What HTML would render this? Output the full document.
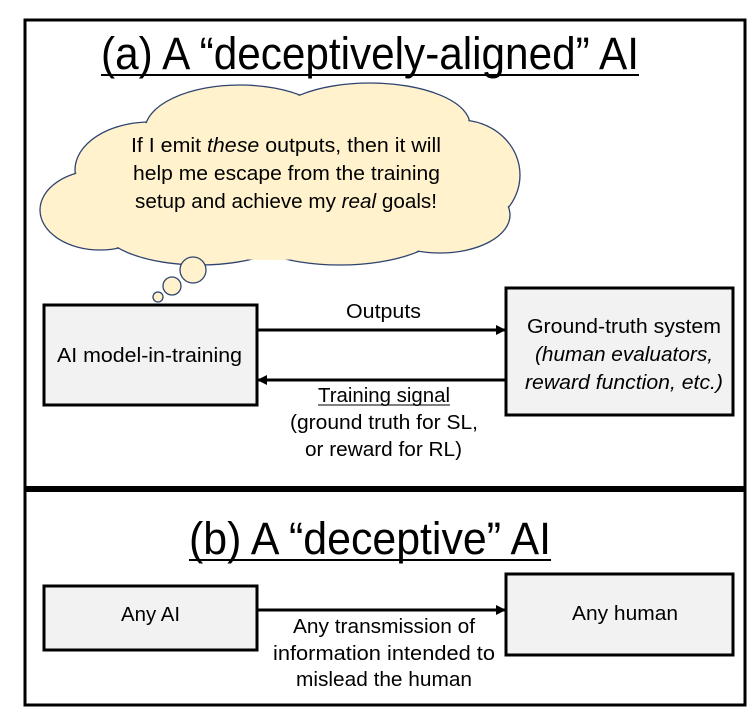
<!DOCTYPE html>
<html><head><meta charset="utf-8"><style>
body{margin:0;background:#fff;width:748px;height:717px;overflow:hidden;font-family:"Liberation Sans",sans-serif}
</style></head><body>
<svg width="748" height="717" viewBox="0 0 748 717" xmlns="http://www.w3.org/2000/svg" font-family="Liberation Sans, sans-serif">
<defs><marker id="ah" markerWidth="10" markerHeight="10" refX="9" refY="5" orient="auto" markerUnits="userSpaceOnUse"><path d="M0,0 L10,5 L0,10 z" fill="#000"/></marker></defs>
<rect x="25" y="20" width="720" height="468" fill="none" stroke="#000" stroke-width="3"/>
<rect x="25" y="490" width="720" height="215" fill="none" stroke="#000" stroke-width="3"/>
<line x1="25" y1="489" x2="745" y2="489" stroke="#000" stroke-width="6"/>
<text x="101" y="69" font-size="45" textLength="538" lengthAdjust="spacingAndGlyphs">(a) A “deceptively-aligned” AI</text>
<line x1="101" y1="75" x2="639" y2="75" stroke="#000" stroke-width="2"/>
<g stroke="#2f4470" stroke-width="1.3" fill="#fff2cc">
<ellipse cx="150" cy="170" rx="75" ry="48"/>
<ellipse cx="240" cy="130" rx="95" ry="45"/>
<ellipse cx="370" cy="125" rx="100" ry="42"/>
<ellipse cx="460" cy="175" rx="60" ry="55"/>
<ellipse cx="100" cy="210" rx="60" ry="40"/>
<ellipse cx="200" cy="225" rx="100" ry="40"/>
<ellipse cx="340" cy="220" rx="110" ry="45"/>
<ellipse cx="440" cy="215" rx="70" ry="38"/>
</g>
<g fill="#fff2cc">
<ellipse cx="150" cy="170" rx="74" ry="47"/>
<ellipse cx="240" cy="130" rx="94" ry="44"/>
<ellipse cx="370" cy="125" rx="99" ry="41"/>
<ellipse cx="460" cy="175" rx="59" ry="54"/>
<ellipse cx="100" cy="210" rx="59" ry="39"/>
<ellipse cx="200" cy="225" rx="99" ry="39"/>
<ellipse cx="340" cy="220" rx="109" ry="44"/>
<ellipse cx="440" cy="215" rx="69" ry="37"/>
<rect x="100" y="140" width="370" height="100"/>
<ellipse cx="140" cy="215" rx="80" ry="30"/>
<ellipse cx="270" cy="225" rx="120" ry="35"/>
</g>
<g stroke="#2f4470" stroke-width="1.3" fill="#fff2cc">
<ellipse cx="193" cy="270" rx="13" ry="13"/>
<ellipse cx="172" cy="286" rx="9" ry="9"/>
<ellipse cx="158" cy="297" rx="5" ry="5"/>
</g>
<g font-size="20" fill="#000">
<text x="131" y="152" textLength="310" lengthAdjust="spacingAndGlyphs">If I emit <tspan font-style="italic">these</tspan> outputs, then it will</text>
<text x="133" y="180" textLength="307" lengthAdjust="spacingAndGlyphs">help me escape from the training</text>
<text x="135" y="208" textLength="302" lengthAdjust="spacingAndGlyphs">setup and achieve my <tspan font-style="italic">real</tspan> goals!</text>
</g>
<rect x="44" y="305" width="213" height="100" fill="#f2f2f2" stroke="#000" stroke-width="3"/>
<rect x="506" y="288" width="227" height="127" fill="#f2f2f2" stroke="#000" stroke-width="3"/>
<line x1="257" y1="330" x2="505" y2="330" stroke="#000" stroke-width="3" marker-end="url(#ah)"/>
<line x1="505" y1="380" x2="258" y2="380" stroke="#000" stroke-width="3" marker-end="url(#ah)"/>
<g font-size="20" fill="#000">
<text x="57" y="362" textLength="185" lengthAdjust="spacingAndGlyphs">AI model-in-training</text>
<text x="346" y="318" textLength="75" lengthAdjust="spacingAndGlyphs">Outputs</text>
<text x="527" y="333" textLength="194" lengthAdjust="spacingAndGlyphs">Ground-truth system</text>
<text x="535" y="361" font-style="italic" textLength="178" lengthAdjust="spacingAndGlyphs">(human evaluators,</text>
<text x="525" y="389" font-style="italic" textLength="198" lengthAdjust="spacingAndGlyphs">reward function, etc.)</text>
<text x="318" y="402" textLength="132" lengthAdjust="spacingAndGlyphs">Training signal</text>
<line x1="318" y1="405" x2="450" y2="405" stroke="#000" stroke-width="1"/>
<text x="290" y="429" textLength="188" lengthAdjust="spacingAndGlyphs">(ground truth for SL,</text>
<text x="305" y="456" textLength="157" lengthAdjust="spacingAndGlyphs">or reward for RL)</text>
</g>
<text x="189" y="554" font-size="45" textLength="362" lengthAdjust="spacingAndGlyphs">(b) A “deceptive” AI</text>
<line x1="189" y1="560" x2="551" y2="560" stroke="#000" stroke-width="2"/>
<rect x="44" y="586" width="213" height="64" fill="#f2f2f2" stroke="#000" stroke-width="3"/>
<rect x="506" y="574" width="227" height="81" fill="#f2f2f2" stroke="#000" stroke-width="3"/>
<line x1="257" y1="610" x2="505" y2="610" stroke="#000" stroke-width="3" marker-end="url(#ah)"/>
<g font-size="20" fill="#000">
<text x="121" y="621" textLength="59" lengthAdjust="spacingAndGlyphs">Any AI</text>
<text x="572" y="620" textLength="106" lengthAdjust="spacingAndGlyphs">Any human</text>
<text x="293" y="633" textLength="182" lengthAdjust="spacingAndGlyphs">Any transmission of</text>
<text x="273" y="660" textLength="222" lengthAdjust="spacingAndGlyphs">information intended to</text>
<text x="296" y="686" textLength="176" lengthAdjust="spacingAndGlyphs">mislead the human</text>
</g>
</svg>
</body></html>
